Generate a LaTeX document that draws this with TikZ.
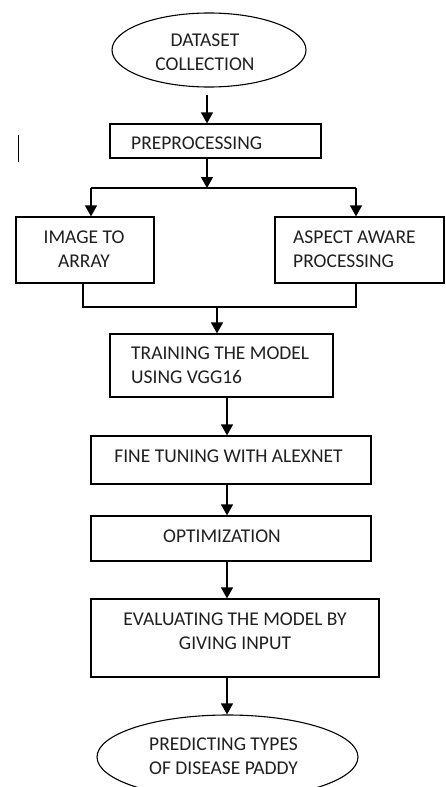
\documentclass[tikz,border=0pt]{standalone}
\usepackage{fontspec}
\setmainfont{Carlito}
\usetikzlibrary{arrows.meta,shapes.geometric}
\begin{document}
\begin{tikzpicture}[x=1pt,y=1pt,
  box/.style={draw,line width=1.2pt,rectangle,inner sep=0pt},
  oval/.style={draw,line width=1.1pt,ellipse,inner sep=0pt},
  lbl/.style={font=\fontsize{19.5}{24}\selectfont,inner sep=0pt,text=black!88},
  conn/.style={line width=1.2pt},
  arr/.style={conn,-{Triangle[width=12pt,length=11pt]}}]
\useasboundingbox (0,0) rectangle (446,-787);
\clip (0,0) rectangle (446,-787);

% shapes
\node[oval,minimum width=194pt,minimum height=74pt] (ds) at (209,-50) {};
\node[box,minimum width=211pt,minimum height=34pt] (pre) at (215.5,-141) {};
\node[box,minimum width=138pt,minimum height=66pt] (img) at (85,-250) {};
\node[box,minimum width=169pt,minimum height=66pt] (asp) at (359.5,-250) {};
\node[box,minimum width=223pt,minimum height=63pt] (train) at (221.5,-365.5) {};
\node[box,minimum width=280pt,minimum height=48pt] (fine) at (231,-460) {};
\node[box,minimum width=280pt,minimum height=45pt] (opt) at (231,-538.5) {};
\node[box,minimum width=288pt,minimum height=78pt] (eval) at (235,-638) {};
\node[oval,minimum width=261pt,minimum height=84pt] (pred) at (227.5,-757) {};

% texts
\node[lbl,align=center] (tds) at (205,-52) {DATASET\\COLLECTION};
\node[lbl,anchor=west] (tpre) at (131,-143) {PREPROCESSING};
\node[lbl,align=center] (timg) at (84,-249) {IMAGE TO\\ARRAY};
\node[lbl,align=left,anchor=west] (tasp) at (293,-249) {ASPECT AWARE\\PROCESSING};
\node[lbl,align=left,anchor=west] (ttrain) at (131,-365) {TRAINING THE MODEL\\USING VGG16};
\node[lbl] (tfine) at (228.5,-456) {FINE TUNING WITH ALEXNET};
\node[lbl] (topt) at (222,-536) {OPTIMIZATION};
\node[lbl,align=center] (teval) at (235,-631) {EVALUATING THE MODEL BY\\GIVING INPUT};
\node[lbl,align=left,anchor=west] (tpred) at (149,-756) {PREDICTING TYPES\\OF DISEASE PADDY};

% helper coordinates
\coordinate (a0) at (207,-95);
\coordinate (sp) at (207,-188);
\coordinate (sl) at (91,-188);
\coordinate (sr) at (356,-188);
\coordinate (ml) at (83,-307);
\coordinate (mr) at (356,-307);
\coordinate (mm) at (217,-307);
\coordinate (ax) at (227,0);
\coordinate (s1) at (18,-135);
\coordinate (s2) at (18,-162);

% connectors
\draw[arr] (a0) -- (a0 |- pre.north);
\draw[arr] (sp |- pre.south) -- (sp);
\draw[conn] (sl) -- (sr);
\draw[arr] (sl) -- (sl |- img.north);
\draw[arr] (sr) -- (sr |- asp.north);
\draw[conn] (ml |- img.south) -- (ml) -- (mr) -- (mr |- asp.south);
\draw[arr] (mm) -- (mm |- train.north);
\draw[arr] (ax |- train.south) -- (ax |- fine.north);
\draw[arr] (ax |- fine.south) -- (ax |- opt.north);
\draw[arr] (ax |- opt.south) -- (ax |- eval.north);
\draw[arr] (ax |- eval.south) -- (ax |- pred.north);

% stray mark
\draw[line width=1pt] (s1) -- (s2);
\end{tikzpicture}
\end{document}
